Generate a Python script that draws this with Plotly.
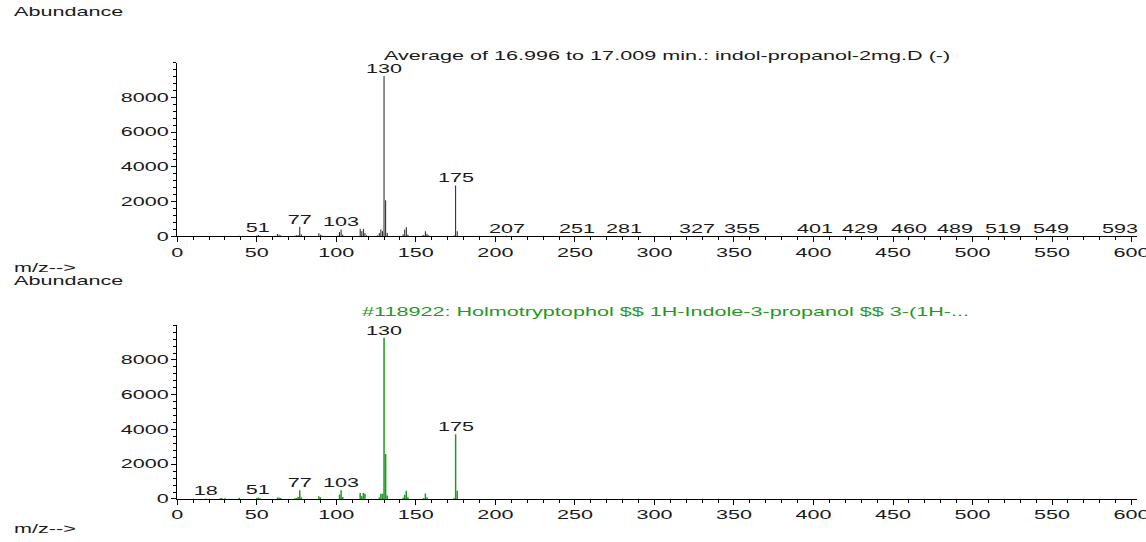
import plotly.graph_objects as go

# Averaged scan (upper panel): m/z and abundance
scan_mz = [39, 41, 50, 51, 52, 62, 63, 64, 65, 74, 75, 76, 77, 78, 89, 90, 91,
           101, 102, 103, 104, 115, 116, 117, 118, 119, 126, 127, 128, 129, 130,
           131, 132, 142, 143, 144, 145, 154, 155, 156, 157, 158, 174, 175, 176,
           207, 251, 281, 327, 355, 401, 429, 460, 489, 519, 549, 593]
scan_abund = [40, 30, 50, 80, 40, 40, 130, 100, 60, 40, 60, 80, 550, 120, 190, 100, 60,
              60, 250, 400, 100, 435, 300, 435, 200, 60, 60, 200, 400, 300, 9230,
              2080, 200, 120, 400, 530, 100, 50, 80, 300, 150, 60, 60, 2930, 300,
              40, 30, 40, 30, 40, 30, 30, 30, 30, 30, 30, 30]
scan_labels = [51, 77, 103, 130, 175, 207, 251, 281, 327, 355, 401, 429, 460,
               489, 519, 549, 593]

# Library reference spectrum (lower panel)
lib_mz = [18, 27, 28, 30, 39, 50, 51, 52, 63, 64, 65, 74, 75, 76, 77, 78, 89, 90,
          102, 103, 104, 115, 116, 117, 118, 127, 128, 129, 130, 131, 132, 142,
          143, 144, 145, 155, 156, 157, 174, 175, 176]
lib_abund = [30, 40, 50, 40, 70, 50, 90, 40, 90, 90, 60, 40, 60, 120, 500, 100, 150, 100,
             250, 500, 120, 340, 150, 340, 300, 80, 300, 300, 9280, 2590, 200, 80,
             240, 470, 100, 60, 320, 100, 60, 3725, 470]
lib_labels = [18, 51, 77, 103, 130, 175]

x_ticks = [0, 50, 100, 150, 200, 250, 300, 350, 400, 450, 500, 550, 600]
y_ticks = [0, 2000, 4000, 6000, 8000]

scan_title = "Average of 16.996 to 17.009 min.: indol-propanol-2mg.D (-)"
lib_title = "#118922: Holmotryptophol $$ 1H-Indole-3-propanol $$ 3-(1H-..."

W, H = 1146, 542
FONT = "Liberation Sans, Arial, sans-serif"
TXT = "#1a1a1a"
GREEN = "#1f9a1f"


def stems(mz, ab):
    xs, ys = [], []
    for m, a in zip(mz, ab):
        xs += [m, m, None]
        ys += [0, a, None]
    return xs, ys


fig = go.Figure()

sx, sy = stems(scan_mz, scan_abund)
fig.add_trace(go.Scatter(x=sx, y=sy, mode="lines", xaxis="x", yaxis="y",
                         line=dict(color="#202020", width=1), hoverinfo="skip"))
lx, ly = stems(lib_mz, lib_abund)
fig.add_trace(go.Scatter(x=lx, y=ly, mode="lines", xaxis="x2", yaxis="y2",
                         line=dict(color=GREEN, width=1.5), hoverinfo="skip"))

x_dom = [175.5 / W, 1142 / W]
top_dom = [1 - 239.5 / H, 1 - 63.5 / H]
bot_dom = [1 - 505.5 / H, 1 - 329.5 / H]

axis_common = dict(showline=True, linecolor="black", linewidth=1, showgrid=False,
                   zeroline=False, ticks="outside", ticklen=5, tickwidth=1,
                   tickcolor="black", ticklabeloverflow="allow",
                   tickfont=dict(family=FONT, size=12, color=TXT))
xaxis_cfg = dict(axis_common, range=[0, 603.4], tickmode="array", tickvals=x_ticks,
                 ticktext=[str(v) for v in x_ticks],
                 minor=dict(tickmode="linear", tick0=0, dtick=10, ticks="outside",
                            ticklen=3, tickcolor="black", showgrid=False))
yaxis_cfg = dict(axis_common, range=[0, 10000], tickmode="array", tickvals=y_ticks,
                 ticktext=[str(v) for v in y_ticks],
                 minor=dict(tickmode="linear", tick0=0, dtick=400, ticks="outside",
                            ticklen=3, tickcolor="black", showgrid=False))

fig.update_layout(
    width=W, height=H, margin=dict(l=0, r=0, t=0, b=0),
    paper_bgcolor="white", plot_bgcolor="white", showlegend=False,
    xaxis=dict(xaxis_cfg, domain=x_dom, anchor="y"),
    yaxis=dict(yaxis_cfg, domain=top_dom, anchor="x"),
    xaxis2=dict(xaxis_cfg, domain=x_dom, anchor="y2"),
    yaxis2=dict(yaxis_cfg, domain=bot_dom, anchor="x2"),
)

annots = []


def side_text(txt, py, color=TXT, px=9):
    annots.append(dict(text=txt, xref="paper", yref="paper", x=px / W, y=1 - py / H,
                       xanchor="left", yanchor="middle", align="left", showarrow=False,
                       font=dict(family=FONT, size=12, color=color)))


side_text("Abundance", 12)
side_text("m/z-->", 272)
side_text("Abundance", 285)
side_text("m/z-->", 536)
side_text(scan_title, 57, px=382)
side_text(lib_title, 316, color=GREEN, px=360)

for labels, mz, ab, xr, yr in [(scan_labels, scan_mz, scan_abund, "x", "y"),
                               (lib_labels, lib_mz, lib_abund, "x2", "y2")]:
    lookup = dict(zip(mz, ab))
    for m in labels:
        annots.append(dict(text=str(m), xref=xr, yref=yr, x=m, y=lookup[m],
                           xanchor="center", yanchor="bottom", showarrow=False,
                           yshift=-2, font=dict(family=FONT, size=12, color=TXT)))

fig.update_layout(annotations=annots)

# Widen the glyphs horizontally (the instrument printout uses an extended face).
# Each text is scaled about its own anchor point, so alignment is preserved.
stretch_js = """
var gd = document.getElementById('{plot_id}');
function stretchText() {
  gd.querySelectorAll('text').forEach(function (t) {
    var cur = t.getAttribute('transform') || '';
    if (cur !== '' && t.getAttribute('data-st') === cur) return;
    var x = parseFloat(t.getAttribute('x')) || 0;
    var y = parseFloat(t.getAttribute('y')) || 0;
    var nt = cur + ' translate(' + x + ',' + y + ') scale(1.8,1) translate(' + (-x) + ',' + (-y) + ')';
    t.setAttribute('transform', nt);
    t.setAttribute('data-st', nt);
  });
}
stretchText();
if (gd.on) { gd.on('plotly_afterplot', stretchText); }
setTimeout(stretchText, 50);
setTimeout(stretchText, 400);
setTimeout(stretchText, 1200);
"""

fig.write_html("out.html", post_script=stretch_js)
